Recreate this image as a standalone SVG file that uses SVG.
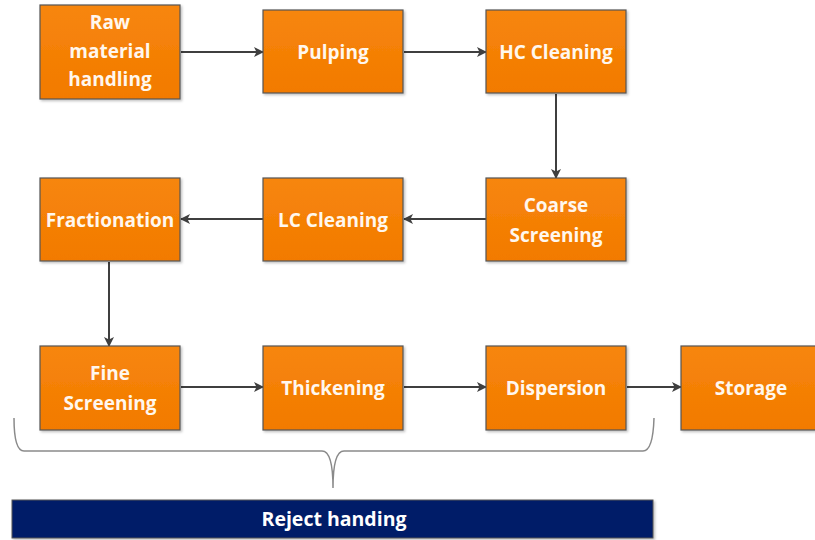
<svg xmlns="http://www.w3.org/2000/svg" width="815" height="540" viewBox="0 0 815 540">
<defs>
<linearGradient id="og" x1="0" y1="0" x2="0" y2="1">
<stop offset="0" stop-color="#f7860c"/>
<stop offset="1" stop-color="#f27a00"/>
</linearGradient>
<marker id="ah" markerWidth="10" markerHeight="10" refX="9" refY="5" orient="auto" markerUnits="userSpaceOnUse">
<path d="M0,0 L10,5 L0,10 L2.5,5 Z" fill="#3f3f3f"/>
</marker>
<filter id="sh" x="-5%" y="-5%" width="115%" height="115%">
<feDropShadow dx="1.5" dy="1.5" stdDeviation="1" flood-color="#000" flood-opacity="0.25"/>
</filter>
</defs>
<style>
.box{fill:url(#og);stroke:#555;stroke-width:1.2;filter:url(#sh)}
.t{font-family:"Open Sans","Liberation Sans",sans-serif;font-weight:bold;font-size:19px;fill:#fff7ee;text-anchor:middle}
.c{stroke:#3f3f3f;stroke-width:2;fill:none;marker-end:url(#ah)}
</style>
<rect width="815" height="540" fill="#fff"/>
<g id="connectors">
<line class="c" x1="181" y1="52" x2="263" y2="52"/>
<line class="c" x1="404" y1="52" x2="486" y2="52"/>
<line class="c" x1="556" y1="94" x2="556" y2="178"/>
<line class="c" x1="486" y1="219" x2="404" y2="219"/>
<line class="c" x1="263" y1="219" x2="181" y2="219"/>
<line class="c" x1="109" y1="262" x2="109" y2="346"/>
<line class="c" x1="181" y1="387" x2="263" y2="387"/>
<line class="c" x1="404" y1="387" x2="486" y2="387"/>
<line class="c" x1="627" y1="387" x2="681" y2="387"/>
</g>
<g id="raw"><rect class="box" x="40" y="5" width="140" height="94"/>
<text class="t" x="110" y="29">Raw</text><text class="t" x="110" y="58">material</text><text class="t" x="110" y="86">handling</text></g>
<g id="pulping"><rect class="box" x="263" y="10" width="140" height="83"/><text class="t" x="333" y="59">Pulping</text></g>
<g id="hc"><rect class="box" x="486" y="10" width="140" height="83"/><text class="t" x="556" y="59">HC Cleaning</text></g>
<g id="coarse"><rect class="box" x="486" y="178" width="140" height="83"/>
<text class="t" x="556" y="212">Coarse</text><text class="t" x="556" y="242">Screening</text></g>
<g id="lc"><rect class="box" x="263" y="178" width="140" height="83"/><text class="t" x="333" y="227">LC Cleaning</text></g>
<g id="fractionation"><rect class="box" x="40" y="178" width="140" height="83"/><text class="t" x="110" y="227">Fractionation</text></g>
<g id="fine"><rect class="box" x="40" y="346" width="140" height="84"/>
<text class="t" x="110" y="380">Fine</text><text class="t" x="110" y="410">Screening</text></g>
<g id="thickening"><rect class="box" x="263" y="346" width="140" height="84"/><text class="t" x="333" y="395">Thickening</text></g>
<g id="dispersion"><rect class="box" x="486" y="346" width="140" height="84"/><text class="t" x="556" y="395">Dispersion</text></g>
<g id="storage"><rect class="box" x="681" y="346" width="140" height="84"/><text class="t" x="751" y="395">Storage</text></g>
<g id="brace">
<path d="M14,418 Q14,451 24,451 L322,451 Q333,451 333,488 Q333,451 344,451 L643,451 Q653,451 654,418" fill="none" stroke="#8a8a8a" stroke-width="1.5"/>
</g>
<g id="reject">
<rect x="12" y="500" width="641" height="38" fill="#041c68" stroke="#555" stroke-width="1" filter="url(#sh)"/>
<text x="334" y="526" style="font-family:'Open Sans','Liberation Sans',sans-serif;font-weight:bold;font-size:19.5px;fill:#fff;text-anchor:middle">Reject handing</text>
</g>
</svg>
